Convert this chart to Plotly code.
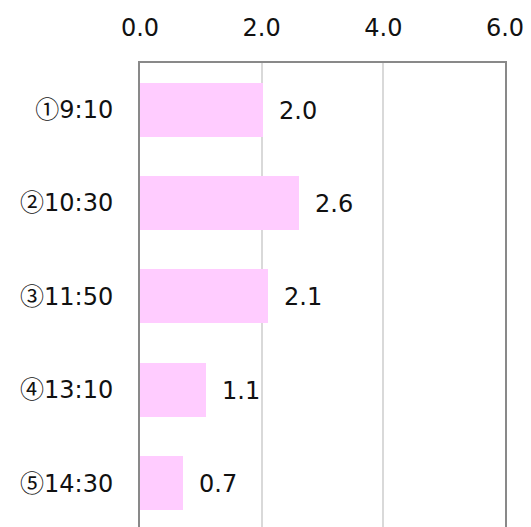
import plotly.graph_objects as go

# data
categories = ["①9:10", "②10:30", "③11:50", "④13:10", "⑤14:30"]
values = [2.03, 2.62, 2.11, 1.09, 0.71]
value_labels = ["2.0", "2.6", "2.1", "1.1", "0.7"]
x_ticks = [0, 2, 4, 6]
x_tick_labels = ["0.0", "2.0", "4.0", "6.0"]

FONT = "DejaVu Sans"
CJK = "Noto Sans CJK JP"

# circled digit drawn with the CJK font (bigger ring), the time with DejaVu
y_tick_text = [f"<span style='font-family:{CJK}'>{c[0]}</span>{c[1:]}" for c in categories]

fig = go.Figure()
fig.add_trace(go.Bar(
    x=values,
    y=categories,
    orientation="h",
    width=0.58,
    marker=dict(color="#FFCCFF", line=dict(width=0)),
    hoverinfo="skip",
))

# value labels right of each bar
for v, c, lab in zip(values, categories, value_labels):
    fig.add_annotation(
        x=v, y=c, text=lab, showarrow=False,
        xanchor="left", yanchor="middle", xshift=14, yshift=-1,
        font=dict(family=FONT, size=24, color="#111111"),
    )

fig.update_layout(
    width=531, height=527,
    margin=dict(l=140, r=26, t=63, b=0),
    paper_bgcolor="white", plot_bgcolor="white",
    showlegend=False,
    font=dict(family=FONT, size=24, color="#111111"),
    bargap=0,
)
fig.update_xaxes(
    side="top", range=[0, 6],
    tickvals=x_ticks, ticktext=x_tick_labels,
    showgrid=True, gridcolor="#d9d9d9", gridwidth=1.5,
    showline=True, linecolor="#898989", linewidth=1.5, mirror=False,
    ticks="", ticklabelstandoff=16, zeroline=False,
)
fig.update_yaxes(
    type="category", range=[4.47, -0.5],
    tickvals=categories, ticktext=y_tick_text,
    showgrid=False, showline=True, linecolor="#898989", linewidth=2,
    mirror=True, ticks="", ticklabelstandoff=20,
)

# drop the default page margin so the figure sits at the window corner
fig.write_html("out.html", config={"displayModeBar": False},
               post_script="document.body.style.margin='0';")
